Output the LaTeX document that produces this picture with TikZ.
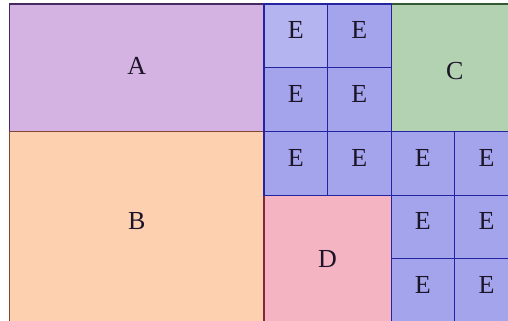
\documentclass[tikz,border=0pt]{standalone}
\usepackage{fontspec}
\setmainfont{Liberation Serif}
\definecolor{Afill}{RGB}{212,178,226}
\definecolor{Aline}{RGB}{72,40,96}
\definecolor{Bfill}{RGB}{253,208,176}
\definecolor{Bline}{RGB}{130,70,50}
\definecolor{Cfill}{RGB}{178,210,178}
\definecolor{Cline}{RGB}{50,90,50}
\definecolor{Dfill}{RGB}{244,180,194}
\definecolor{Dline}{RGB}{130,40,60}
\definecolor{Efill}{RGB}{164,164,236}
\definecolor{Elight}{RGB}{180,180,240}
\definecolor{Eline}{RGB}{36,36,160}
\definecolor{txt}{RGB}{28,20,40}
\begin{document}
\begin{tikzpicture}[x=63.6pt,y=-63.7pt,
  cell/.style={inner sep=0pt, outer sep=0pt, line width=1.2pt,
    font=\fontsize{26}{30}\selectfont, text=txt},
  ecell/.style={cell, fill=Efill, draw=Eline, minimum width=63.6pt, minimum height=63.7pt, text depth=11pt}]
\useasboundingbox (-0.1494,-0.0628) rectangle (7.8381,4.9608);
\fill[white] (-0.1494,-0.0628) rectangle (7.8381,4.9608);
\clip (-0.1494,-0.0628) rectangle (7.8381,4.9608);
\node[cell, fill=Afill, draw=Aline, minimum width=254.4pt, minimum height=127.4pt, text depth=4pt] (A) at (2,1) {A};
\node[cell, fill=Bfill, draw=Bline, minimum width=254.4pt, minimum height=191.1pt, text depth=12pt] (B) at (2,3.5) {B};
\node[cell, fill=Cfill, draw=Cline, minimum width=127.2pt, minimum height=127.4pt, text height=23pt] (C) at (7,1) {C};
\node[cell, fill=Dfill, draw=Dline, minimum width=127.2pt, minimum height=127.4pt] (D) at (5,4) {D};
\node[ecell, fill=Elight] (E1) at (4.5,0.5) {E};
\foreach \n/\c/\r in {2/5/0, 3/4/1, 4/5/1, 5/4/2, 6/5/2, 7/6/2, 8/7/2, 9/6/3, 10/7/3, 11/6/4, 12/7/4}
  \node[ecell] (E\n) at (\c+0.5,\r+0.5) {E};
\end{tikzpicture}
\end{document}
